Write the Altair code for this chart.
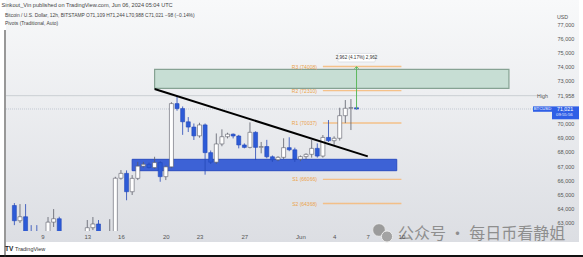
import altair as alt
import pandas as pd
from datetime import datetime, timedelta, timezone

# ---------------- data ----------------
candle_times = pd.date_range("2024-05-06 12:00", periods=62, freq="12h", tz="UTC")
opens = [64230, 63160, 63440, 62100, 61800, 61200, 62000, 63060, 63300, 60800, 60900, 60800, 61000, 61500,
         62670, 62930, 62000, 61600, 62300, 66150, 66490, 65200, 66140, 67000, 67130, 66900, 67250, 66260,
         66950, 71400, 71050, 70120, 69750, 69130, 69900, 67950, 67280, 68560, 69070, 69250, 69120, 68490,
         68320, 69380, 68320, 68380, 67660, 67450, 67620, 68300, 68150, 67490, 67670, 67830, 68250, 67710,
         69020, 68790, 68960, 70550, 71070, 71109]
closes = [63160, 63440, 62100, 61800, 61200, 62000, 63060, 63300, 60800, 60900, 60800, 61000, 61500, 62670,
          62930, 62000, 61600, 62300, 66150, 66490, 65200, 66140, 67000, 67130, 66900, 67250, 66260, 66950,
          71400, 71050, 70120, 69750, 69130, 69900, 67950, 67280, 68560, 69070, 69250, 69120, 68490, 68320,
          69380, 68320, 68380, 67660, 67450, 67620, 68300, 68150, 67490, 67670, 67830, 68250, 67710, 69020,
          68790, 68960, 70550, 71070, 71119, 71021]
highs = [64400, 64330, 64330, 62850, 62850, 62300, 63420, 63980, 63440, 61400, 61200, 61300, 61800, 63210,
         63420, 63210, 62300, 63270, 66250, 66725, 66700, 66370, 67300, 67300, 67250, 67660, 67350, 67050,
         71500, 71958, 71200, 70450, 70000, 70050, 70000, 68100, 69300, 69590, 69350, 69300, 69200, 68600,
         70080, 69450, 68700, 68850, 67750, 67700, 68960, 69030, 68300, 67750, 67900, 68840, 68600, 69190,
         70244, 69100, 71110, 71650, 71720, 71244]
lows = [62850, 63000, 61900, 61500, 60900, 60900, 61800, 62720, 60600, 60500, 60600, 60700, 60900, 61300,
        62500, 61800, 61300, 61300, 62100, 66050, 64600, 64970, 66020, 66900, 66850, 66800, 65900, 66020,
        66850, 70900, 69200, 69400, 68840, 69000, 66400, 67150, 67150, 68400, 68950, 68950, 68250, 68250,
        68250, 67430, 67900, 67550, 67300, 67350, 67500, 68050, 67300, 67350, 67500, 67600, 67600, 67600,
        68700, 68500, 68800, 70030, 69540, 70988]

zone_time = ["2024-05-17T00:00:00Z", "2024-06-09T14:00:00Z"]
zone_price = [66680, 67480]
target_time = ["2024-05-19T00:00:00Z", "2024-06-19T14:00:00Z"]
target_price = [72475, 73812]
trend_time = ["2024-05-19T00:00:00Z", "2024-06-07T00:00:00Z"]
trend_price = [72426, 67690]
pivot_names = ["R3", "R2", "R1", "S1", "S2"]
pivot_values = [74008, 72310, 70037, 66066, 64368]
pivot_span = ["2024-06-03T00:00:00Z", "2024-06-10T00:00:00Z"]
measure_time = "2024-06-06T00:00:00Z"
measure_from, measure_to = 71021, 73983
measure_label = "2,962 (4.17%) 2,962"
measure_box_time = ["2024-06-04T08:00:00Z", "2024-06-07T16:00:00Z"]
measure_box_price = [74330, 74930]
last_price = 71021
high_price = 71958
y_ticks = [63000, 64000, 65000, 66000, 67000, 68000, 69000, 70000, 71958, 73000, 74000, 75000, 76000, 77000]
x_tick_days = [(5, 9), (5, 13), (5, 16), (5, 20), (5, 23), (5, 27), (6, 1), (6, 4), (6, 7), (6, 10)]
header_lines = ["Sinkout_Vin published on TradingView.com, Jun 06, 2024 05:04 UTC",
                "Bitcoin / U.S. Dollar, 12h, BITSTAMP  O71,109 H71,244 L70,988 C71,021 \u221298 (\u22120.14%)",
                "Pivots (Traditional, Auto)"]
watermark = "公众号 · 每日币看静姐"

# ---------------- frames ----------------
df = pd.DataFrame({
    "time": [t.strftime("%Y-%m-%dT%H:%M:%SZ") for t in candle_times],
    "open": opens, "high": highs, "low": lows, "close": closes,
})
df["dir"] = ["up" if c >= o else "down" for o, c in zip(opens, closes)]

W, H = 542, 231
ref = datetime(2024, 5, 9, tzinfo=timezone.utc)
ppd = 11.43
t0 = ref - timedelta(days=32 / ppd)
t1 = ref + timedelta(days=(W - 32) / ppd)
xdom = [int(t0.timestamp() * 1000), int(t1.timestamp() * 1000)]
ydom = [62437, 78688.5]

FONT = "Liberation Sans"
XSC = alt.Scale(type="utc", domain=xdom)
YSC = alt.Scale(domain=ydom, nice=False, zero=False)
XAX = alt.Axis(values=[alt.DateTime(year=2024, month=m, date=d, utc=True) for m, d in x_tick_days],
               labelExpr="utcdate(datum.value) == 1 ? utcFormat(datum.value, '%b') : utcFormat(datum.value, '%-d')",
               ticks=False, domain=False, grid=False, labelFontSize=6, labelPadding=2, title=None,
               labelColor="#555", labelFont=FONT, labelOverlap=False, zindex=5)
YAX = alt.Axis(orient="right", values=y_ticks, format=",d", labelAlign="left", labelPadding=9,
               ticks=False, domain=False, grid=False, labelFontSize=5.5, labelColor="#555",
               labelFont=FONT, title=None, labelOverlap=False, zindex=5)


def X(field):
    return alt.X(field, type="temporal", scale=XSC, axis=XAX, title=None)


def Y(field):
    return alt.Y(field, type="quantitative", scale=YSC, axis=YAX, title=None)


one = pd.DataFrame({"a": [0]})

bg = alt.Chart(one).mark_rect(
    fill=alt.LinearGradient(gradient="linear",
                            stops=[alt.GradientStop(color="#f8f9fa", offset=0),
                                   alt.GradientStop(color="#dcdee3", offset=1)],
                            x1=0, x2=0, y1=0, y2=1)
).encode(x=alt.value(0), x2=alt.value(573), y=alt.value(0), y2=alt.value(242))

border_b = alt.Chart(one).mark_rect(color="#111").encode(
    x=alt.value(-6), x2=alt.value(577), y=alt.value(255), y2=alt.value(257))
border_l = alt.Chart(one).mark_rect(color="#333").encode(
    x=alt.value(-1.5), x2=alt.value(-0.5), y=alt.value(30), y2=alt.value(257))

hl = alt.Chart(pd.DataFrame({"p": [high_price]})).mark_rule(color="#c3c6cc", strokeWidth=0.8).encode(
    x=alt.value(0), x2=alt.value(534), y=Y("p"))
pl = alt.Chart(pd.DataFrame({"p": [last_price]})).mark_rule(color="#b9bfcc", strokeWidth=0.8,
                                                             strokeDash=[1, 1]).encode(
    x=alt.value(0), x2=alt.value(527), y=Y("p"))

zone_df = pd.DataFrame({"t1": [zone_time[0]], "t2": [zone_time[1]], "p1": [zone_price[0]], "p2": [zone_price[1]]})
zone = alt.Chart(zone_df).mark_rect(fill="#3d62d6", stroke="#2a4cc0", strokeWidth=1).encode(
    x=X("t1"), x2="t2", y=Y("p1"), y2="p2")

tgt_df = pd.DataFrame({"t1": [target_time[0]], "t2": [target_time[1]], "p1": [target_price[0]], "p2": [target_price[1]]})
tgt = alt.Chart(tgt_df).mark_rect(fill="#c7ded4", stroke="#86a293", strokeWidth=1.2).encode(
    x=X("t1"), x2="t2", y=Y("p1"), y2="p2")

piv_df = pd.DataFrame({"name": pivot_names, "v": pivot_values,
                       "t1": pivot_span[0], "t2": pivot_span[1]})
piv_df["label"] = [f"{n} ({v})" for n, v in zip(pivot_names, pivot_values)]
piv_lines = alt.Chart(piv_df).mark_rule(color="#f6b877", strokeWidth=1.4, opacity=0.85).encode(
    x=X("t1"), x2="t2", y=Y("v"))
piv_text = alt.Chart(piv_df).mark_text(align="right", dx=-6, fontSize=5, color="#eba24a", font=FONT).encode(
    x=X("t1"), y=Y("v"), text="label")

CS = alt.Scale(domain=["up", "down"], range=["#ffffff", "#2d5bd7"])
SS = alt.Scale(domain=["up", "down"], range=["#5a5d68", "#2448b8"])
wicks = alt.Chart(df).mark_rule(strokeWidth=0.8, clip=True).encode(
    x=X("time"), y=Y("low"), y2="high", stroke=alt.Stroke("dir:N", scale=SS, legend=None))
bodies = alt.Chart(df).mark_bar(size=4, strokeWidth=0.6, clip=True).encode(
    x=X("time"), y=Y("open"), y2="close",
    fill=alt.Fill("dir:N", scale=CS, legend=None),
    stroke=alt.Stroke("dir:N", scale=SS, legend=None))

tr_df = pd.DataFrame({"t": trend_time, "p": trend_price})
trend = alt.Chart(tr_df).mark_line(color="#000", strokeWidth=2).encode(x=X("t"), y=Y("p"))

ms_df = pd.DataFrame({"t": [measure_time], "p1": [measure_from], "p2": [measure_to]})
ms_rule = alt.Chart(ms_df).mark_rule(color="#5cb85c", strokeWidth=1).encode(x=X("t"), y=Y("p1"), y2="p2")
ms_head = alt.Chart(ms_df).mark_point(shape="M-1,0.8L0,0L1,0.8", filled=False, size=18, strokeWidth=1,
                                      color="#5cb85c", opacity=1).encode(x=X("t"), y=Y("p2"))
mb_df = pd.DataFrame({"t1": [measure_box_time[0]], "t2": [measure_box_time[1]],
                      "p1": [measure_box_price[0]], "p2": [measure_box_price[1]],
                      "t": [measure_time], "label": [measure_label]})
mb_df["pm"] = (mb_df["p1"] + mb_df["p2"]) / 2
mbox = alt.Chart(mb_df).mark_rect(fill="#ffffff", stroke="#d0d3d9", strokeWidth=0.6, cornerRadius=1).encode(
    x=X("t1"), x2="t2", y=Y("p1"), y2="p2")
mtext = alt.Chart(mb_df).mark_text(fontSize=4.6, color="#333", font=FONT).encode(
    x=X("t"), y=Y("pm"), text="label")

lp = pd.DataFrame({"p": [last_price]})
tag1 = alt.Chart(lp).mark_rect(fill="#2f5fe6", yOffset=-2.6, y2Offset=2.8).encode(
    x=alt.value(527), x2=alt.value(546), y=Y("p"), y2="p")
tag2 = alt.Chart(lp).mark_rect(fill="#2f5fe6", yOffset=-2.6, y2Offset=10.3).encode(
    x=alt.value(546), x2=alt.value(573), y=Y("p"), y2="p")
tag_t1 = alt.Chart(lp).mark_text(fontSize=4.3, color="#fff", font=FONT, dy=0.2).encode(
    x=alt.value(536.5), y=Y("p"), text=alt.value("BTCUSD"))
tag_t2 = alt.Chart(lp).mark_text(fontSize=5.3, color="#fff", font=FONT, align="left", dy=0.3).encode(
    x=alt.value(551), y=Y("p"), text=alt.value("71,021"))
tag_t3 = alt.Chart(lp).mark_text(fontSize=4.3, color="#e8eeff", font=FONT, align="left", dy=6.3).encode(
    x=alt.value(550), y=Y("p"), text=alt.value("09:55:56"))
hp = pd.DataFrame({"p": [high_price]})
high_t = alt.Chart(hp).mark_text(fontSize=5.3, color="#555", font=FONT, align="right").encode(
    x=alt.value(542), y=Y("p"), text=alt.value("High"))

usd = alt.Chart(one).mark_text(fontSize=5.3, color="#555", font=FONT, align="left").encode(
    x=alt.value(551), y=alt.value(16.5), text=alt.value("USD"))

hdr = alt.layer(*[
    alt.Chart(one).mark_text(fontSize=fs, color="#444", font=FONT, align="left").encode(
        x=alt.value(xx), y=alt.value(yy), text=alt.value(txt))
    for txt, xx, yy, fs in zip(header_lines, [-4.5, -1, -1], [5, 16, 23.5], [5.6, 4.9, 4.9])
])

tv_logo = alt.Chart(one).mark_text(fontSize=6.5, color="#222", font=FONT, fontWeight="bold", align="left").encode(
    x=alt.value(-1), y=alt.value(249), text=alt.value("TV"))
tv_text = alt.Chart(one).mark_text(fontSize=5.5, color="#333", font=FONT, align="left").encode(
    x=alt.value(9), y=alt.value(249), text=alt.value("TradingView"))

wm_big = alt.Chart(one).mark_point(shape="circle", filled=True, size=160, color="#9b9b9b",
                                   stroke="#eeeeee", strokeWidth=0.8, opacity=1).encode(
    x=alt.value(373), y=alt.value(230))
wm_small = alt.Chart(one).mark_point(shape="circle", filled=True, size=125, color="#a3a3a3",
                                     stroke="#eeeeee", strokeWidth=1, opacity=1).encode(
    x=alt.value(381), y=alt.value(236.5))
wm_text = alt.Chart(one).mark_text(fontSize=16, color="#8e8e8e", font="Noto Sans CJK SC", align="left").encode(
    x=alt.value(392), y=alt.value(233.5), text=alt.value(watermark))

chart = alt.layer(
    bg, border_b, border_l, hl, pl, tgt, zone, piv_lines, piv_text, wicks, bodies, trend,
    ms_rule, ms_head, mbox, mtext, tag1, tag2, tag_t1, tag_t2, tag_t3, high_t, usd, hdr,
    tv_logo, tv_text, wm_big, wm_small, wm_text
).properties(
    width=W, height=H, autosize=alt.AutoSizeParams(type="none"),
    padding={"left": 6, "top": 0, "right": 35, "bottom": 26},
    background="#ffffff"
).configure_view(stroke=None)

chart.save("out.html", embed_options={"renderer": "svg", "actions": False})
